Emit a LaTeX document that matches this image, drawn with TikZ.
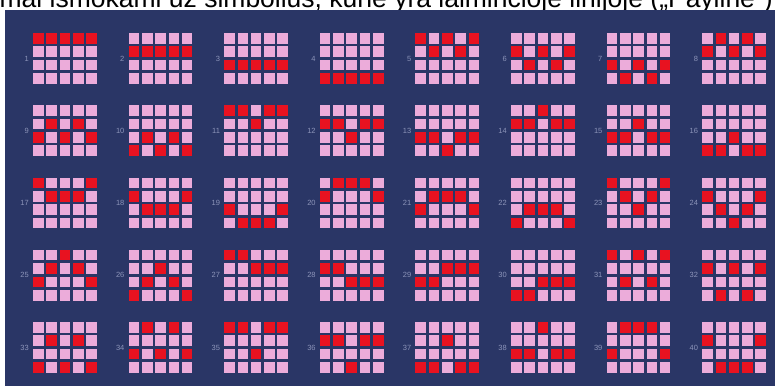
\documentclass[tikz,border=0pt]{standalone}
\usepackage{fontspec}
\setmainfont{Liberation Sans}
\usetikzlibrary{positioning}
\definecolor{panelblue}{RGB}{42,54,102}
\definecolor{cellpink}{RGB}{236,172,218}
\definecolor{hitred}{RGB}{232,18,32}
\definecolor{numgray}{RGB}{140,148,185}

\begin{document}
\begin{tikzpicture}[
  x=1pt, y=-1pt,
  cellbox/.style  = {fill=cellpink},
  hitbox/.style   = {fill=hitred},
  numlabel/.style = {font=\fontsize{7.5}{8}\selectfont, text=numgray, inner sep=0pt},
  caption/.style  = {font=\fontsize{26.5}{30}\selectfont, inner sep=0pt},
]
  \useasboundingbox (0,0) rectangle (775,386);
  \clip (0,0) rectangle (775,386);

  % cut-off line of text above the panel
  \node[caption, anchor=base east] (cap) at (773,7.5)
    {mai išmokami už simbolius, kurie yra laiminčioje linijoje („Payline“)};

  % panel
  \fill[panelblue] (5,10) rectangle (775,386);

  % the 40 lines: row of the hit cell on each of the five reels
  \foreach \pay [count=\n from 0] in {
    {0,0,0,0,0},{1,1,1,1,1},{2,2,2,2,2},{3,3,3,3,3},
    {0,1,0,1,0},{1,2,1,2,1},{2,3,2,3,2},{1,0,1,0,1},
    {2,1,2,1,2},{3,2,3,2,3},{0,0,1,0,0},{1,1,2,1,1},
    {2,2,3,2,2},{1,1,0,1,1},{2,2,1,2,2},{3,3,2,3,3},
    {0,1,1,1,0},{1,2,2,2,1},{2,3,3,3,2},{1,0,0,0,1},
    {2,1,1,1,2},{3,2,2,2,3},{0,1,2,1,0},{1,2,3,2,1},
    {2,1,0,1,2},{3,2,1,2,3},{0,0,1,1,1},{1,1,2,2,2},
    {2,2,1,1,1},{3,3,2,2,2},{0,2,0,2,0},{1,3,1,3,1},
    {3,1,3,1,3},{2,0,2,0,2},{0,0,2,0,0},{1,1,3,1,1},
    {3,3,1,3,3},{2,2,0,2,2},{2,0,0,0,2},{1,3,3,3,1}} {
    \pgfmathsetmacro{\gx}{33+95.6*mod(\n,8)}
    \pgfmathsetmacro{\gy}{33+72.25*int(\n/8)}
    \pgfmathtruncatemacro{\lbl}{\n+1}
    \node[numlabel, anchor=east] (line\lbl) at (\gx-4,\gy+25.5) {\lbl};
    \foreach \i in {0,...,4}
      \foreach \j in {0,...,3}
        \fill[cellbox] (\gx+13.3*\i,\gy+13.4*\j) rectangle ++(10.6,10.6);
    \foreach \r [count=\i from 0] in \pay
      \fill[hitbox] (\gx+13.3*\i,\gy+13.4*\r) rectangle ++(10.6,10.6);
  }
\end{tikzpicture}
\end{document}
